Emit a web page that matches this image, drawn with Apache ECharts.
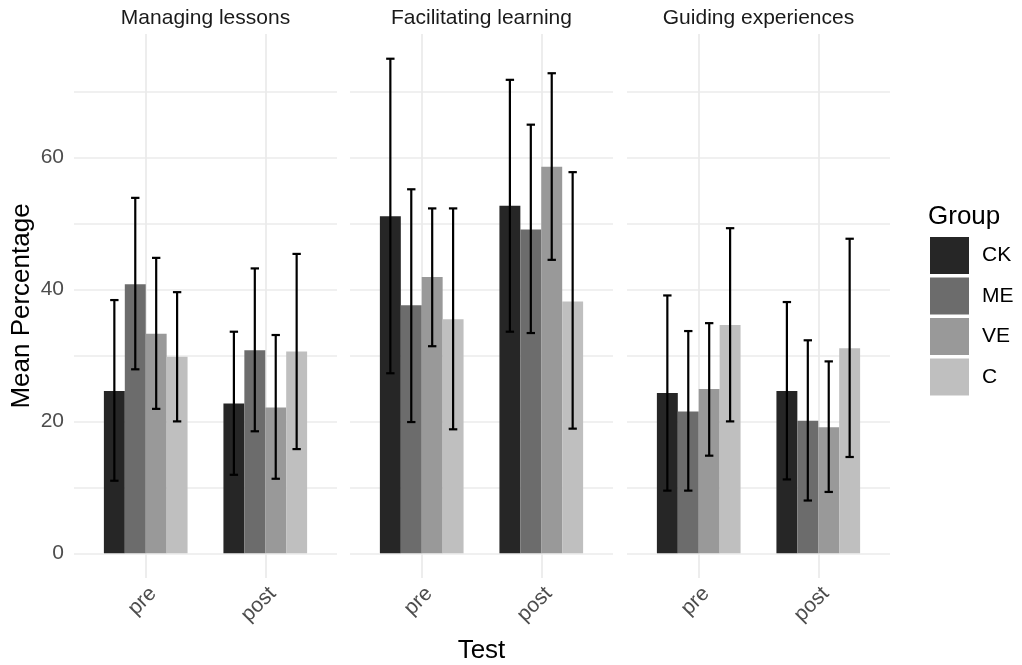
<!DOCTYPE html>
<html>
<head>
<meta charset="utf-8">
<script src="https://cdn.jsdelivr.net/npm/echarts@6/dist/echarts.min.js"></script>
<style>
  html, body { margin: 0; padding: 0; background: #fff; }
  #chart { width: 1022px; height: 665px; }
</style>
</head>
<body>
<div id="chart"></div>
<script>
// facets, x categories and groups
const panels = ['Managing lessons', 'Facilitating learning', 'Guiding experiences'];
const tests = ['pre', 'post'];
const groups = ['CK', 'ME', 'VE', 'C'];
const yTicks = [0, 20, 40, 60];
const yGrid = [0, 10, 20, 30, 40, 50, 60, 70];

// values per group, order: ML pre, ML post, FL pre, FL post, GE pre, GE post
const ckMean = [24.6, 22.7, 51.1, 52.7, 24.3, 24.6];
const ckLow  = [11.0, 11.9, 27.3, 33.6, 9.5, 11.2];
const ckHigh = [38.4, 33.6, 75.0, 71.8, 39.1, 38.1];

const meMean = [40.8, 30.8, 37.6, 49.1, 21.5, 20.1];
const meLow  = [27.9, 18.5, 19.9, 33.4, 9.5, 8.0];
const meHigh = [53.9, 43.2, 55.2, 65.0, 33.7, 32.3];

const veMean = [33.3, 22.1, 41.9, 58.6, 24.9, 19.1];
const veLow  = [21.9, 11.3, 31.4, 44.5, 14.8, 9.3];
const veHigh = [44.8, 33.1, 52.3, 72.8, 34.9, 29.1];

const cMean = [29.8, 30.6, 35.5, 38.2, 34.6, 31.1];
const cLow  = [20.0, 15.8, 18.8, 18.9, 20.0, 14.6];
const cHigh = [39.6, 45.4, 52.3, 57.8, 49.3, 47.7];

const means = [ckMean, meMean, veMean, cMean];
const lows = [ckLow, meLow, veLow, cLow];
const highs = [ckHigh, meHigh, veHigh, cHigh];
const colors = ['#262626', '#6c6c6c', '#999999', '#bfbfbf'];

const FONT = '"Liberation Sans", Arial, sans-serif';
const panelLeft = [74, 350, 627];
const panelW = 263;
const barW = 0.7 / groups.length;

const chart = echarts.init(document.getElementById('chart'));

const grid = [], xAxis = [], yAxis = [], series = [];
panels.forEach((p, pi) => {
  grid.push({ left: panelLeft[pi], width: panelW, top: 34, bottom: 87, outerBoundsMode: 'none' });
  xAxis.push({
    type: 'value', gridIndex: pi, min: 0.4, max: 2.6,
    axisLine: { show: false },
    axisTick: { show: false, customValues: [1, 2] },
    splitLine: { show: true, lineStyle: { color: '#ebebeb', width: 1.8 } },
    axisLabel: {
      customValues: [1, 2], formatter: v => tests[Math.round(v) - 1],
      rotate: 45, fontSize: 21, color: '#4d4d4d', fontFamily: FONT, margin: 5,
      verticalAlign: 'top'
    },
    name: pi === 1 ? 'Test' : '', nameLocation: 'middle', nameGap: 60,
    nameTextStyle: { fontSize: 26, color: '#000', fontFamily: FONT }
  });
  yAxis.push({
    type: 'value', gridIndex: pi, min: -3.75, max: 78.75,
    axisLine: { show: false },
    axisTick: { show: false, customValues: yGrid },
    splitLine: { show: true, lineStyle: { color: '#ebebeb', width: 1.6 } },
    axisLabel: {
      show: pi === 0, customValues: yTicks, fontSize: 21, color: '#4d4d4d',
      fontFamily: FONT, margin: 10
    },
    name: pi === 0 ? 'Mean Percentage' : '', nameLocation: 'middle', nameGap: 39,
    nameTextStyle: { fontSize: 26, color: '#000', fontFamily: FONT }
  });
  groups.forEach((g, gi) => {
    const data = tests.map((t, ti) => {
      const k = pi * 2 + ti;
      return [ti + 1, means[gi][k], lows[gi][k], highs[gi][k]];
    });
    series.push({
      type: 'custom', name: g, xAxisIndex: pi, yAxisIndex: pi,
      itemStyle: { color: colors[gi] },
      silent: true,
      data: data,
      encode: { x: 0, y: [1, 2, 3] },
      renderItem: (params, api) => {
        const xc = api.value(0) + (gi - 1.5) * barW;
        const p0 = api.coord([xc - barW / 2, 0]);
        const p1 = api.coord([xc + barW / 2, api.value(1)]);
        const lo = api.coord([xc, api.value(2)]);
        const hi = api.coord([xc, api.value(3)]);
        const capL = api.coord([xc - 0.035, 0])[0];
        const capR = api.coord([xc + 0.035, 0])[0];
        const ls = { stroke: '#000', lineWidth: 2.2 };
        return {
          type: 'group',
          children: [
            { type: 'rect', shape: { x: p0[0], y: p1[1], width: p1[0] - p0[0], height: p0[1] - p1[1] },
              style: { fill: colors[gi] } },
            { type: 'line', z2: 10, shape: { x1: lo[0], y1: lo[1], x2: hi[0], y2: hi[1] }, style: ls },
            { type: 'line', z2: 10, shape: { x1: capL, y1: lo[1], x2: capR, y2: lo[1] }, style: ls },
            { type: 'line', z2: 10, shape: { x1: capL, y1: hi[1], x2: capR, y2: hi[1] }, style: ls }
          ]
        };
      }
    });
  });
});

const option = {
  animation: false,
  textStyle: { fontFamily: FONT },
  grid, xAxis, yAxis, series,
  legend: {
    data: groups, orient: 'vertical', left: 925, top: 232,
    icon: 'rect', itemWidth: 39, itemHeight: 37, itemGap: 3.5,
    selectedMode: false,
    textStyle: { fontSize: 21, color: '#000', fontFamily: FONT, padding: [0, 0, 0, 8] }
  },
  graphic: panels.map((p, pi) => ({
    type: 'text', x: panelLeft[pi] + panelW / 2, y: 18,
    style: { text: p, fill: '#1a1a1a', font: '21px ' + FONT, textAlign: 'center', textVerticalAlign: 'middle' }
  })).concat([{
    type: 'text', x: 928, y: 217,
    style: { text: 'Group', fill: '#000', font: '26px ' + FONT, textAlign: 'left', textVerticalAlign: 'middle' }
  }])
};
chart.setOption(option);
</script>
</body>
</html>
